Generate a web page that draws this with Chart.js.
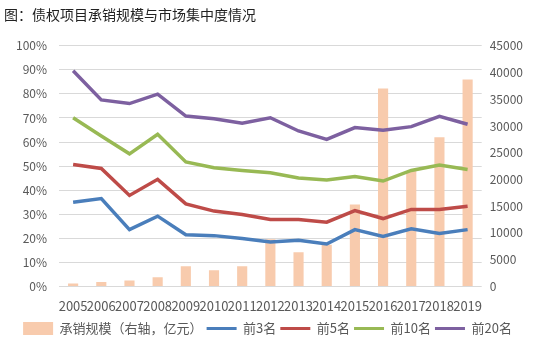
<!DOCTYPE html>
<html>
<head>
<meta charset="utf-8">
<script src="https://cdn.jsdelivr.net/npm/chart.js@4.4.0/dist/chart.umd.min.js"></script>
<style>
    html, body { margin: 0; padding: 0; background: #fff; }
    #wrap { width: 551px; height: 345px; position: relative; }
</style>
</head>
<body>
<div id="wrap"><canvas id="chart"></canvas></div>
<script>
// Years on the x axis
const years = ['2005', '2006', '2007', '2008', '2009', '2010', '2011', '2012', '2013', '2014', '2015', '2016', '2017', '2018', '2019'];

// Underwriting scale (right axis, 100m yuan)
const scale = [550, 800, 1100, 1700, 3750, 3000, 3750, 8800, 6400, 7800, 15300, 37000, 21600, 27900, 38700];

// Market concentration, percent (left axis)
const top3 = [35.0, 36.5, 23.6, 29.2, 21.5, 21.1, 19.9, 18.5, 19.2, 17.6, 23.6, 20.8, 23.9, 22.0, 23.6];
const top5 = [50.7, 49.0, 37.8, 44.5, 34.3, 31.3, 29.9, 27.8, 27.8, 26.7, 31.5, 28.2, 32.0, 32.0, 33.3];
const top10 = [70.1, 62.5, 55.1, 63.2, 51.7, 49.3, 48.2, 47.2, 45.1, 44.2, 45.7, 43.8, 48.2, 50.4, 48.6];
const top20 = [89.6, 77.5, 76.0, 79.9, 70.8, 69.7, 67.8, 70.1, 64.6, 61.1, 66.0, 64.9, 66.4, 70.7, 67.4];

const fontFamily = '"Noto Sans CJK SC", "Noto Sans", sans-serif';
const textColor = '#595959';

function lineSet(label, data, color) {
    return {
        type: 'line',
        label: label,
        data: data,
        yAxisID: 'y',
        borderColor: color,
        backgroundColor: color,
        borderWidth: 3.5,
        pointRadius: 0,
        tension: 0,
        order: 1
    };
}

const ctx = document.getElementById('chart').getContext('2d');

new Chart(ctx, {
    data: {
        labels: years,
        datasets: [
            {
                type: 'bar',
                label: '承销规模（右轴，亿元）',
                data: scale,
                yAxisID: 'y1',
                backgroundColor: '#F8CBAD',
                borderWidth: 0,
                barPercentage: 0.36,
                categoryPercentage: 1,
                order: 2
            },
            lineSet('前3名', top3, '#4A7EBB'),
            lineSet('前5名', top5, '#BE4B48'),
            lineSet('前10名', top10, '#98B954'),
            lineSet('前20名', top20, '#7D60A0')
        ]
    },
    options: {
        responsive: true,
        maintainAspectRatio: false,
        animation: false,
        layout: {
            padding: { left: 4, right: 20, top: 2, bottom: 0 }
        },
        scales: {
            x: {
                grid: { display: false },
                border: { display: false },
                ticks: {
                    autoSkip: false,
                    maxRotation: 0,
                    color: textColor,
                    font: { family: fontFamily, size: 13 },
                    padding: 4
                }
            },
            y: {
                position: 'left',
                min: 0,
                max: 100,
                ticks: {
                    stepSize: 10,
                    color: textColor,
                    font: { family: fontFamily, size: 12 },
                    padding: 12,
                    callback: v => v + '%'
                },
                grid: { color: '#D9D9D9', drawTicks: false },
                border: { display: false }
            },
            y1: {
                position: 'right',
                min: 0,
                max: 45000,
                ticks: {
                    stepSize: 5000,
                    color: textColor,
                    font: { family: fontFamily, size: 12 },
                    padding: 8,
                    callback: v => String(v)
                },
                grid: { drawOnChartArea: false, drawTicks: false },
                border: { display: false }
            }
        },
        plugins: {
            title: {
                display: true,
                text: '图：债权项目承销规模与市场集中度情况',
                align: 'start',
                color: '#222',
                font: { family: fontFamily, size: 14, weight: 'normal' },
                padding: { top: 4, bottom: 23 }
            },
            legend: {
                position: 'bottom',
                labels: {
                    color: textColor,
                    font: { family: fontFamily, size: 13 },
                    usePointStyle: true,
                    pointStyleWidth: 30,
                    padding: 4,
                    sort: (a, b) => a.datasetIndex - b.datasetIndex,
                    generateLabels: function(chart) {
                        const items = Chart.defaults.plugins.legend.labels.generateLabels(chart);
                        items.forEach(item => {
                            const ds = chart.data.datasets[item.datasetIndex];
                            const isBar = ds.type === 'bar';
                            item.pointStyle = isBar ? 'rect' : 'line';
                            item.lineWidth = isBar ? 0 : 3;
                            item.strokeStyle = isBar ? ds.backgroundColor : ds.borderColor;
                            item.fillStyle = isBar ? ds.backgroundColor : ds.borderColor;
                        });
                        return items;
                    }
                }
            },
            tooltip: { enabled: false }
        }
    }
});
</script>
</body>
</html>
